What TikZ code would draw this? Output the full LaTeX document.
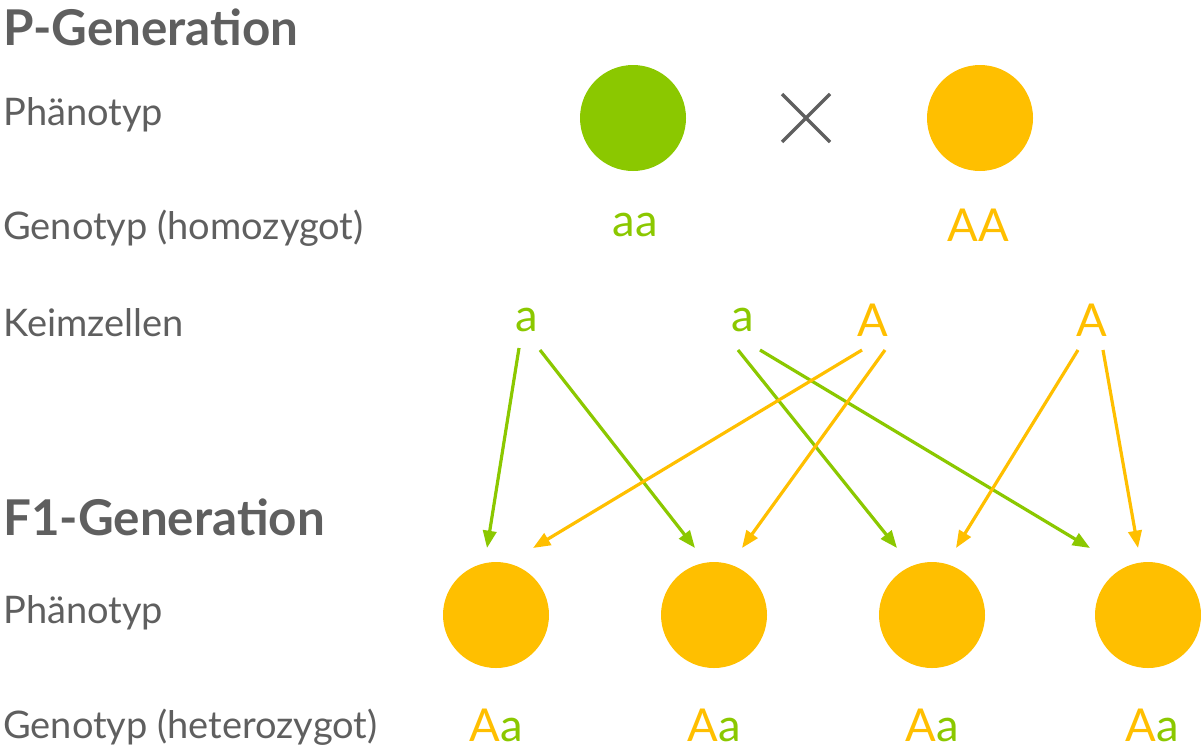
\documentclass[tikz,border=0pt]{standalone}
\usepackage{fontspec}
\setmainfont{Lato}
\usetikzlibrary{arrows.meta}
\definecolor{gr}{HTML}{8BC800}
\definecolor{og}{HTML}{FFBF00}
\definecolor{tx}{HTML}{5F5F5F}
\begin{document}
\begin{tikzpicture}[x=0.75pt,y=-0.75pt,
 lbl/.style={anchor=west,text=tx,font=\fontsize{28.5}{32}\selectfont,inner sep=0},
 head/.style={anchor=west,text=tx,font=\fontsize{37}{40}\selectfont\bfseries,inner sep=0},
 gen/.style={font=\fontsize{34}{38}\selectfont,inner sep=0},
 dot/.style={circle,fill=#1,minimum size=79.5pt,inner sep=0},
 arr/.style={#1,line width=2.4pt,-{Stealth[length=13pt,width=10pt,inset=0pt]}}]
\useasboundingbox (0,0) rectangle (1201,754);
\node[head] (hp) at (3,27) {P-Generation};
\node[lbl] (l1) at (3,115) {Phänotyp};
\node[lbl] (l2) at (3,228) {Genotyp (homozygot)};
\node[lbl] (l3) at (3,323) {Keimzellen};
\node[head] (hf) at (3,517) {F1-Generation};
\node[lbl] (l4) at (3,613) {Phänotyp};
\node[lbl] (l5) at (3,727) {Genotyp (heterozygot)};
\node[dot=gr] (pg) at (633,118) {};
\node[dot=og] (po) at (980,118) {};
\draw[tx,line width=2.5pt] (782,94) -- (830,142) (830,94) -- (782,142);
\node[gen,text=gr] (g1) at (635,225) {aa};
\node[gen,text=og] (g2) at (978,225) {AA};
\node[gen,text=gr] (k1) at (527,320) {a};
\node[gen,text=gr] (k2) at (743,320) {a};
\node[gen,text=og] (k3) at (873,320) {A};
\node[gen,text=og] (k4) at (1092,320) {A};
\foreach \i/\x in {1/496,2/714,3/932,4/1148}{
  \node[dot=og] (f\i) at (\x,615) {};}
\foreach \i/\x in {1/496,2/714,3/932,4/1152}{
  \node[gen] (h\i) at (\x,725) {\textcolor{og}{A}\textcolor{gr}{a}};}
\foreach \n/\x/\y in {a1/519/348,a2/540/350,b1/738/350,b2/760/350,c1/862/350,c2/885/350,d1/1078/350,d2/1103/350,
  e1/487/548,e2/695/548,e3/897/548,e4/1090/548,e5/533/548,e6/742/548,e7/956/548,e8/1138/548}
  \coordinate (\n) at (\x,\y);
\draw[arr=gr] (a1) -- (e1);
\draw[arr=gr] (a2) -- (e2);
\draw[arr=gr] (b1) -- (e3);
\draw[arr=gr] (b2) -- (e4);
\draw[arr=og] (c1) -- (e5);
\draw[arr=og] (c2) -- (e6);
\draw[arr=og] (d1) -- (e7);
\draw[arr=og] (d2) -- (e8);
\end{tikzpicture}
\end{document}
